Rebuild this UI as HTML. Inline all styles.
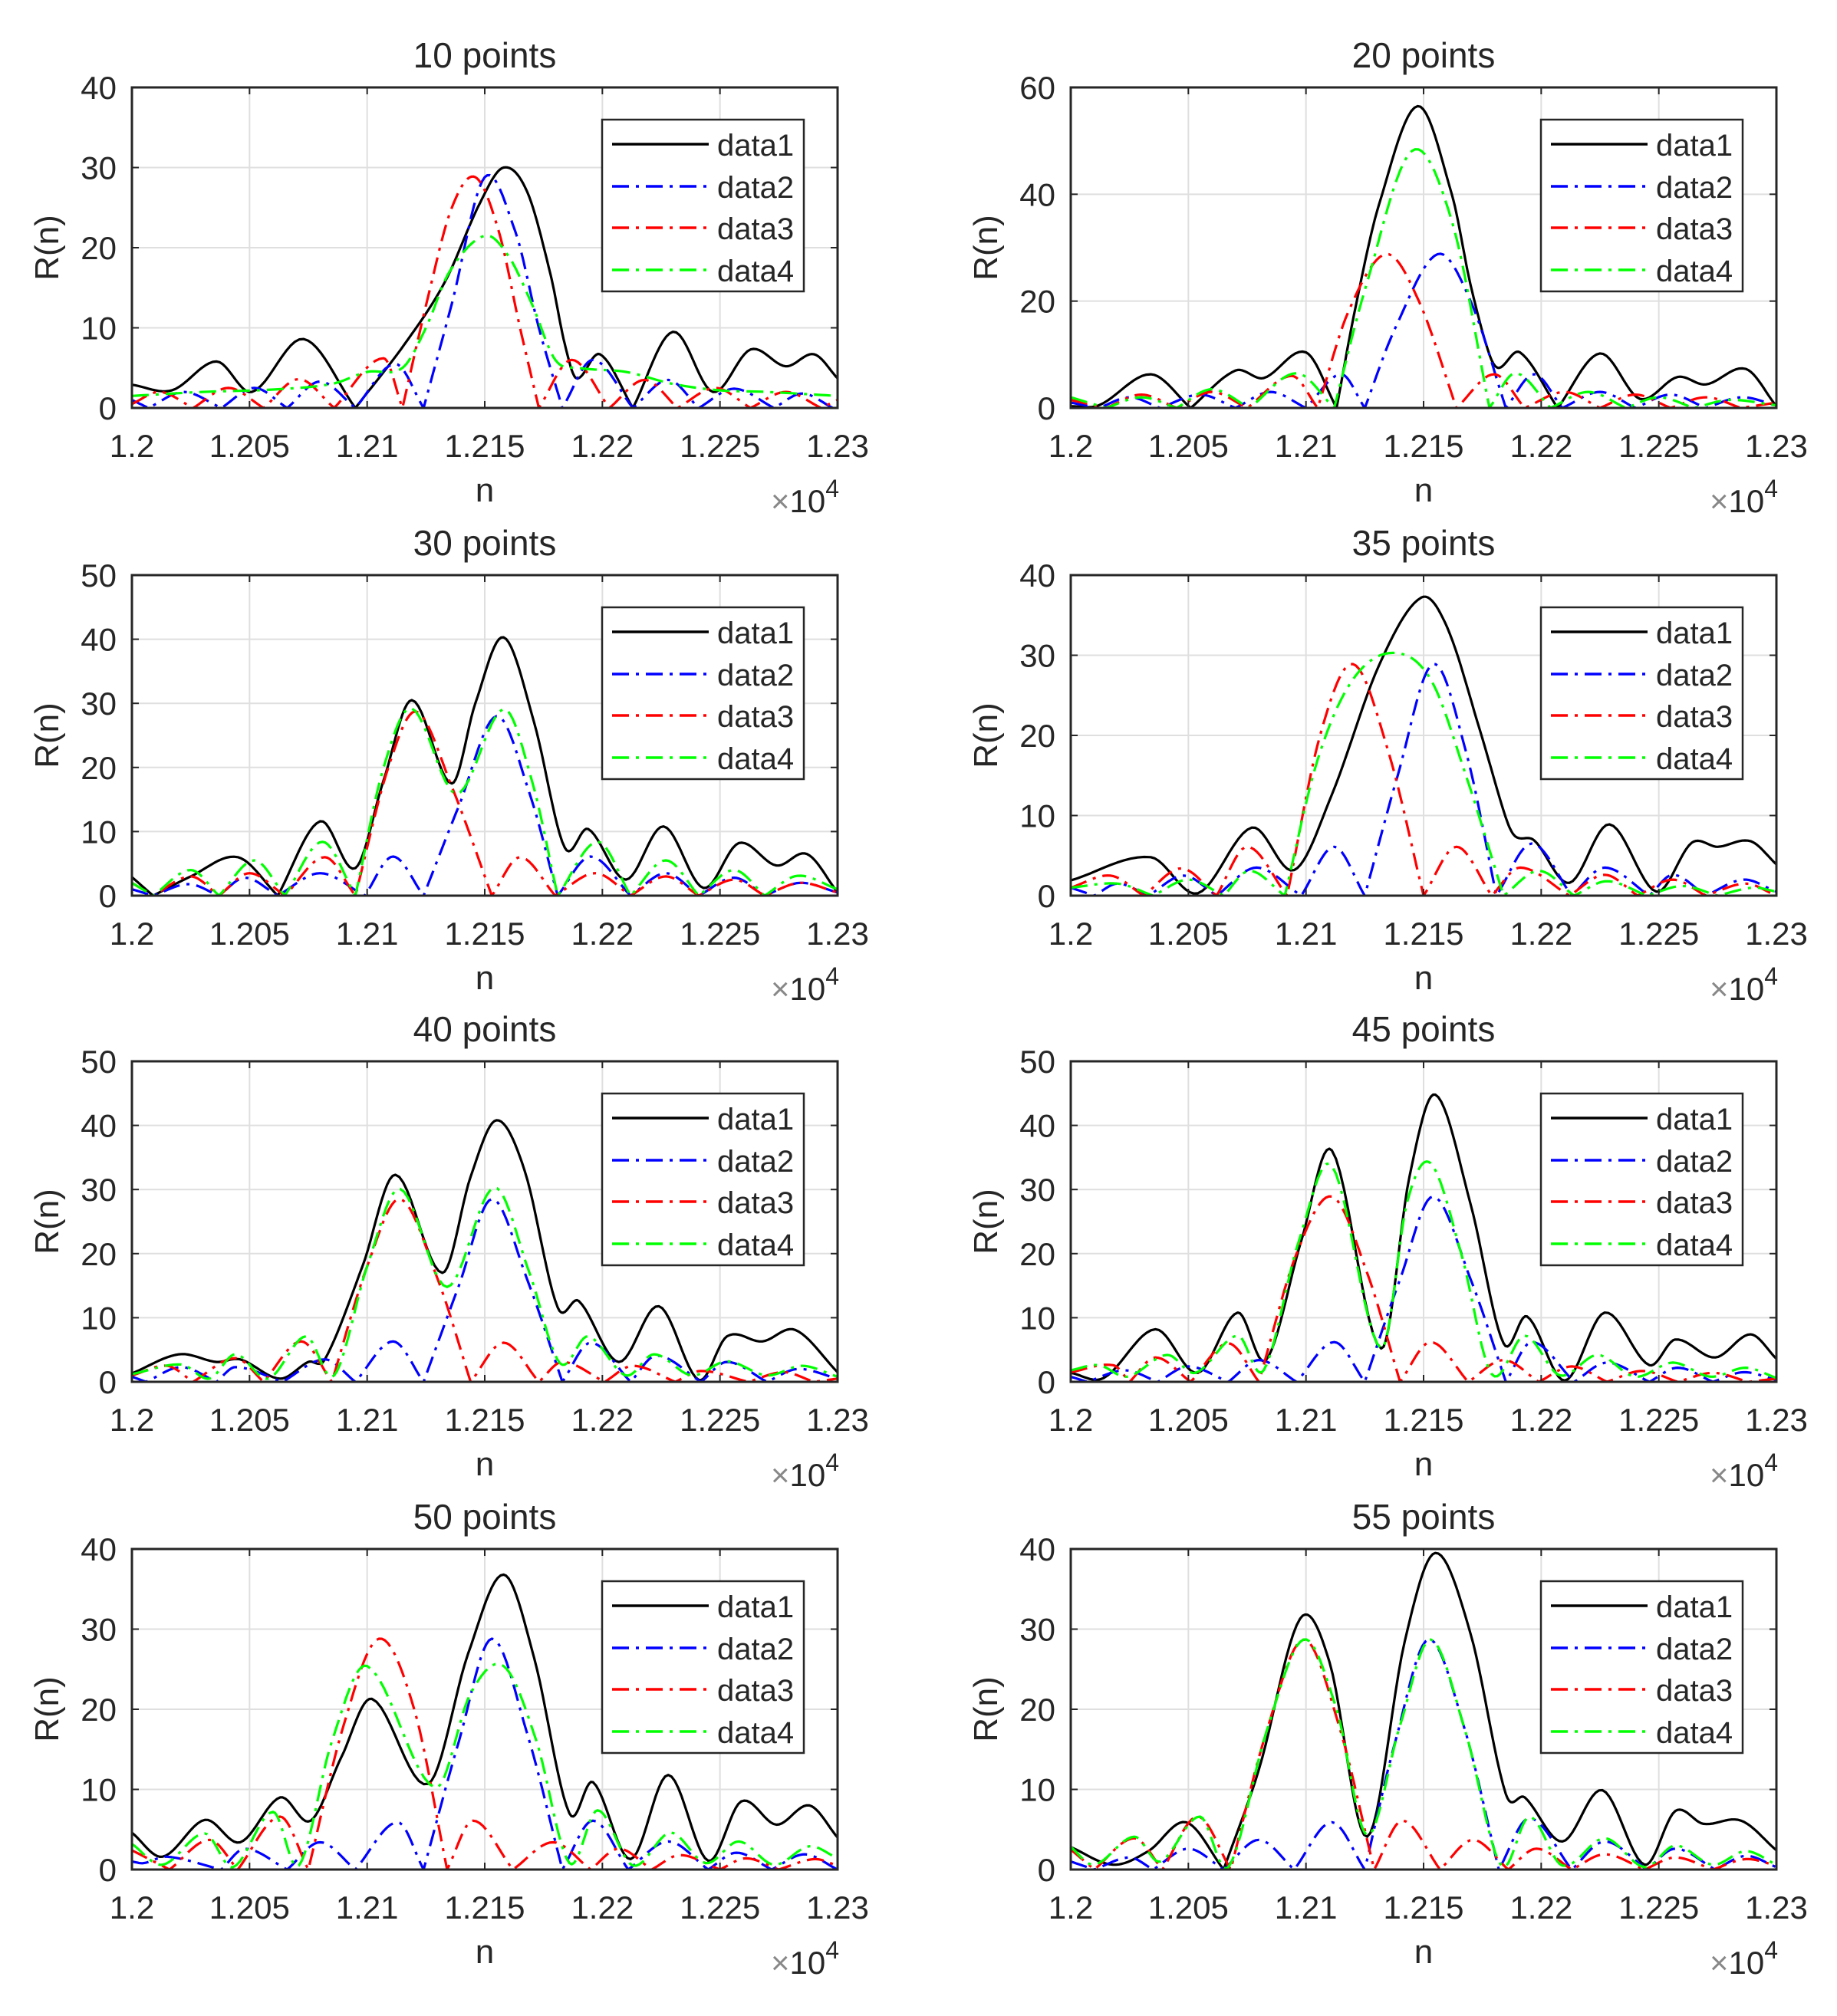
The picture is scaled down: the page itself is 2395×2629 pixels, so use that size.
<!DOCTYPE html>
<html><head><meta charset="utf-8"><style>
html,body{margin:0;padding:0;background:#fff;}
svg text{font-family:"Liberation Sans",Arial,sans-serif;fill:#262626;}
</style></head><body>
<svg id="fig" xmlns="http://www.w3.org/2000/svg" width="2395" height="2624" viewBox="0 0 2395 2624"></svg>
<script>
// x values: offset from 1.2e4 in units of 10 (0..30 => 1.2..1.23 x10^4)
const xTicks=[0,5,10,15,20,25,30];
const xTickLabels=["1.2","1.205","1.21","1.215","1.22","1.225","1.23"];
const titles=["10 points","20 points","30 points","35 points","40 points","45 points","50 points","55 points"];
const yMaxes=[40,60,50,40,50,50,40,40];
const yStepsPerPanel=[10,20,10,10,10,10,10,10];
const seriesNames=["data1","data2","data3","data4"];

const p10_d1=[[0,2.9],[1.7,2.2],[3.6,5.8],[5.1,2],[7.3,8.6],[9.5,0],[11.6,8],[13.3,15.7],[14.8,25.6],[15.8,30],[16.8,27],[17.8,16.6],[18.4,8],[18.9,3.7],[19.9,6.7],[21.3,0],[23,9.5],[24.7,2],[26.3,7.3],[27.8,5.2],[29,6.7],[30,3.7]];
const p10_d2=[[0,1],[0.7,0],[2.2,2],[3.8,0],[5.2,2.5],[6.6,0],[8,3.3],[9.5,0],[11.2,5.5],[12.4,0],[13.6,13],[15,28.8],[16.3,22],[17.3,10],[18.3,0],[19.6,6],[21.3,0],[22.8,3.5],[24.1,0],[25.6,2.4],[27.3,0],[28.5,1.8],[29.8,0],[30,0.5]];
const p10_d3=[[0,0.5],[1.2,2],[2.6,0],[4.1,2.5],[5.6,0],[7.1,3.6],[8.6,0],[10.7,6.2],[11.5,0],[12.6,14],[13.6,25],[14.6,28.8],[15.6,22],[16.5,10],[17.3,0],[18.7,6],[20.3,0],[21.8,3.5],[23.2,0],[24.8,2.5],[26.3,0],[27.8,2],[29.3,0],[30,1]];
const p10_d4=[[0,1.5],[3,2],[6,2.3],[8.5,3],[10,4.5],[11.5,5],[12.5,10],[13.5,17],[15,21.5],[16,19],[17,13],[18,6],[19,5],[21,4.5],[23,3],[25,2.2],[27,2],[30,1.5]];

const p20_d1=[[0,0.3],[1.2,0.5],[3.4,6.3],[5.1,0],[7,7],[8.2,5.6],[10,10.4],[11.3,0],[12.1,18.7],[13.1,38],[14.75,56.5],[16.2,40],[17,23],[17.8,10],[18.2,7.5],[19.1,10.4],[20.7,0],[22.5,10.2],[24.2,1.7],[25.8,5.8],[27,4.4],[28.7,7.3],[30,0.3]];
const p20_d2=[[0,1],[1.2,0],[2.5,2],[3.8,0],[5.5,2.5],[7,0],[8.5,3],[10,0],[11.5,6.3],[12.5,0],[13.8,15],[15.6,28.8],[17,20],[18.5,0],[19.7,6.3],[20.9,0],[22.5,3],[24,0],[25.5,2.5],[27,0],[28.5,2],[30,0.5]];
const p20_d3=[[0,1.5],[1.5,0],[3,2.5],[4.5,0],[6,3],[7.5,0],[9.4,6],[10.5,0],[11.8,18],[13.4,28.8],[14.8,20],[16.4,0],[18,6.3],[19.3,0],[21,3],[22.5,0],[24,2.5],[25.5,0],[27,2],[28.5,0],[30,1]];
const p20_d4=[[0,2],[1.5,0],[3,2],[4.5,0],[6,3.5],[7.6,0],[9.6,6.5],[11.2,0],[12.5,22],[14.5,48.1],[16.2,35],[17.8,0],[18.9,6.5],[20.4,0],[22,3],[23.6,0],[25,2],[26.5,0],[28,1.5],[30,0.5]];

const p30_d1=[[0,2.9],[0.9,0],[2.5,3],[4.5,6],[6.2,0],[8,11.6],[9.5,4.3],[10.7,18],[11.9,30.5],[13.6,17.5],[14.6,30],[15.8,40.3],[17.1,27],[18.4,7.5],[19.4,10.4],[21,2.5],[22.6,10.8],[24.3,1.2],[25.8,8.2],[27.4,4.7],[28.7,6.5],[30,0.5]];
const p30_d2=[[0,1],[0.9,0],[2.4,1.8],[3.7,0],[4.8,2.8],[6.2,0],[8,3.5],[9.9,0],[11.1,6.1],[12.4,0],[13.9,14],[15.5,28],[16.9,16],[18.1,0],[19.5,6.1],[21.2,0],[22.7,3.5],[24.1,0],[25.6,2.8],[26.9,0],[28.4,2],[30,0.5]];
const p30_d3=[[0,2],[0.9,0],[2.5,3],[3.7,0],[5,3.5],[6.5,0],[8.2,6],[9.5,0],[10.9,20],[12.1,28.7],[13.6,17],[15.3,0],[16.5,6],[18,0],[19.7,3.5],[21.2,0],[22.7,3],[24.1,0],[25.6,2.5],[26.9,0],[28.4,2],[30,0.5]];
const p30_d4=[[0,2],[0.9,0],[2.5,4],[3.7,0],[5.2,5.5],[6.5,0],[8.1,8.4],[9.5,0],[10.7,20],[11.9,29.2],[13.8,15.9],[15.8,29.1],[17,18],[18.1,0],[19.8,8.4],[21.2,0],[22.7,5.5],[24.1,0],[25.6,4],[26.9,0],[28.3,3.1],[30,1]];

const p35_d1=[[0,1.9],[3.4,4.8],[5.4,0.3],[7.7,8.5],[9.5,3.2],[11.1,12.6],[13.1,28.7],[14.9,37.2],[16,33.5],[17.4,20.6],[18.5,9.7],[18.9,7.4],[19.7,6.9],[21.2,1.6],[22.9,8.9],[24.9,0.5],[26.4,6.6],[27.5,6.1],[28.9,6.8],[30,3.9]];
const p35_d2=[[0,1],[1,0],[2,1.5],[3.3,0],[4.8,2.5],[6.2,0],[7.9,3.5],[9.8,0],[11.2,6.1],[12.5,0],[13.9,15],[15.4,28.9],[16.8,18],[18.1,0],[19.6,6.5],[21.3,0],[22.7,3.5],[24.6,0],[25.6,2.6],[27,0],[28.6,2],[30,0.5]];
const p35_d3=[[0,1],[1.7,2.5],[3.1,0],[4.7,3.4],[6.2,0],[7.5,6.1],[9.2,0],[10.6,20],[12,28.9],[13.5,18],[15,0],[16.4,6.1],[17.9,0],[19.1,3.5],[21.2,0],[22.7,2.6],[24.1,0],[25.6,2],[27,0],[28.7,1.5],[30,0]];
const p35_d4=[[0,1],[2,1.5],[3.5,0],[5,2],[6.5,0],[7.6,3.1],[9.1,0],[10.5,17],[12,27],[13.7,30.3],[15.3,27],[16.8,15],[18.4,0],[19.9,3.1],[21.4,0],[22.8,1.8],[24.5,0],[26,1.2],[27.5,0],[29,1],[30,0.5]];

const p40_d1=[[0,1.3],[2,4.3],[3.6,3.1],[4.6,3.5],[6.3,0.5],[7.5,3.1],[8.2,3.5],[9.8,18],[11.2,32.3],[13.2,17],[14.4,32],[15.5,40.8],[16.7,32.9],[18.1,11.6],[19,12.6],[20.7,3.1],[22.4,11.8],[24.1,0.3],[25.3,7.1],[26.8,6.3],[28.2,8.1],[30,1.5]];
const p40_d2=[[0,0.8],[0.6,0],[2.1,2.3],[3.6,0],[4.4,2.3],[6.4,0],[8.2,3.5],[9.5,0],[11.1,6.3],[12.4,0],[13.9,15],[15.3,28.5],[16.8,16],[18.3,0],[19.5,6.1],[21.2,0],[22.3,4.1],[24.2,0],[25.3,3.1],[27,0],[28.3,2],[30,0.5]];
const p40_d3=[[0,1],[1.5,2.5],[2.6,0],[4.4,3.7],[5.6,0],[7.2,6.3],[8.5,0],[10,18],[11.4,28.5],[13,16],[14.4,0],[15.8,6.1],[17.3,0],[18.3,3.1],[20.1,0],[21.3,2.5],[23.1,0],[24.2,1.7],[26.2,0],[27.7,1.5],[29,0],[30,0.5]];
const p40_d4=[[0,1.2],[2.1,2.7],[3.3,0.5],[4.4,4.3],[5.8,0.5],[7.4,7.1],[8.6,1],[10,18],[11.4,30.1],[13.4,14.8],[15.4,30.3],[16.9,17],[18.2,2.9],[19.4,7.1],[21,1],[22.2,4.3],[23.8,1],[25.3,3.2],[27,1],[28.5,2.5],[30,0.8]];

const p45_d1=[[0,1.4],[1.4,0.6],[3.6,8.2],[5.4,1.4],[7.1,10.8],[8.3,3.4],[9.8,22],[11.1,36.1],[13.2,5.2],[14.4,32],[15.5,44.8],[17,27.7],[18.4,6],[19.4,10.2],[21,0.2],[22.7,10.8],[24.6,2.6],[25.7,6.6],[27.4,3.8],[28.9,7.4],[30,3.6]];
const p45_d2=[[0,0.8],[0.7,0],[2.3,1.8],[3.7,0],[5,2.4],[6.7,0],[8,3.4],[9.6,0],[11.2,6.2],[12.5,0],[14,16],[15.4,28.9],[17,16],[18.5,0],[19.6,6.2],[21.4,0],[22.8,3],[24.6,0],[25.8,2.2],[27.3,0],[28.6,1.5],[30,0.3]];
const p45_d3=[[0,1.5],[1.8,2.6],[2.5,0],[3.6,3.8],[5.1,0],[6.7,6],[8,0],[9.6,20],[11.1,28.9],[12.6,17],[14,0],[15.3,6.2],[16.9,0],[18.4,3.4],[19.9,0],[21.3,2.4],[22.8,0],[24.3,1.7],[25.8,0],[27.3,1.4],[28.8,0],[30,0.5]];
const p45_d4=[[0,1.8],[1.2,2.6],[2.4,0.8],[4.1,4.2],[5.3,1.4],[7.1,7.2],[8.2,1.8],[9.7,22],[11.1,33.7],[13.2,5.2],[14.3,28],[15.3,34.1],[16.6,20],[17.9,1.2],[19.3,7.2],[20.8,1],[22.4,4.2],[24,0.8],[25.6,3],[27.2,0.8],[28.7,2.2],[30,0.6]];

const p50_d1=[[0,4.6],[1.3,1.6],[3.1,6.2],[4.6,3.4],[6.3,9],[7.6,6.1],[8.9,14],[10.2,21.3],[12.6,10.7],[14.3,27],[15.8,36.8],[17.1,26.4],[18.6,7],[19.6,10.9],[21.2,1.3],[22.8,11.8],[24.5,1.1],[25.9,8.5],[27.4,5.6],[28.8,8],[30,4]];
const p50_d2=[[0,1],[0.5,0.8],[1.5,1.6],[3.8,0],[4.8,2.6],[6.6,0],[8,3.4],[9.5,0],[11.3,5.9],[12.4,0],[13.9,16],[15.3,28.8],[16.8,17],[18.3,0],[19.6,6.1],[21.1,0],[22.8,3.5],[24.5,0],[25.7,2.1],[27.2,0],[28.6,1.9],[30,0]];
const p50_d3=[[0,2.4],[1.6,0],[3.3,3.7],[4.5,0],[6.3,6.6],[7.5,0],[9,18],[10.5,28.8],[12,20],[13.4,0],[14.5,6.1],[16.2,0],[17.9,3.4],[19.5,0],[20.7,2.6],[22.1,0],[23.3,1.8],[25,0],[26.1,1.4],[27.5,0],[29,1.3],[30,0.5]];
const p50_d4=[[0,3.2],[1.3,0.6],[3.1,4.5],[4.3,0.3],[6,7.2],[7.1,0.5],[8.5,16],[10,25.4],[12.9,10.2],[14.4,22],[15.8,25.4],[17.2,16],[18.6,0.8],[19.8,7.4],[21.3,0.5],[22.9,4.6],[24.4,0.8],[25.8,3.5],[27.3,0.6],[28.8,2.9],[30,1.4]];

const p55_d1=[[0,2.8],[1.8,0.6],[3.3,2.3],[4.9,5.9],[6.5,0],[8,12.5],[9.75,31.3],[11,25.9],[12.6,4.1],[14.2,28.5],[15.5,39.5],[17,29.4],[18.5,9.4],[19.3,9],[20.9,3.5],[22.6,9.9],[24.4,0.6],[25.7,7.3],[26.9,5.7],[28.5,6.1],[30,2.4]];
const p55_d2=[[0,1],[1,0],[2.5,1.5],[3.5,0],[5,2.6],[6.5,0],[8,3.7],[9.5,0],[11.1,5.9],[12.5,0],[13.8,16],[15.2,28.7],[16.7,18],[18.2,0],[19.5,6.4],[21.3,0],[22.7,3.5],[24.5,0],[25.7,2.6],[27.4,0],[28.7,1.7],[30,0.3]];
const p55_d3=[[0,2.5],[1,0],[2.7,3.9],[3.9,0],[5.4,6.6],[6.8,0],[8.3,17],[9.9,28.7],[11.4,18],[12.9,0],[14.1,6.1],[15.7,0],[17.1,3.7],[18.6,0],[19.8,2.6],[21.3,0],[22.7,1.9],[24.4,0],[25.7,1.5],[27.3,0],[28.7,1.3],[30,0.5]];
const p55_d4=[[0,2.8],[1,0.6],[2.7,4.1],[3.8,1],[5.5,6.6],[6.7,0.3],[8.3,17],[9.9,28.7],[11.3,20],[12.6,4.3],[14,18],[15.3,28.7],[16.8,17],[18.3,0.5],[19.5,6.6],[20.9,0.5],[22.7,3.9],[24.4,0.3],[25.7,3],[27.3,0.6],[28.7,2.3],[30,0.6]];

const panelSeries=[
 [p10_d1,p10_d2,p10_d3,p10_d4],[p20_d1,p20_d2,p20_d3,p20_d4],
 [p30_d1,p30_d2,p30_d3,p30_d4],[p35_d1,p35_d2,p35_d3,p35_d4],
 [p40_d1,p40_d2,p40_d3,p40_d4],[p45_d1,p45_d2,p45_d3,p45_d4],
 [p50_d1,p50_d2,p50_d3,p50_d4],[p55_d1,p55_d2,p55_d3,p55_d4]];

const NS="http://www.w3.org/2000/svg";
const svg=document.getElementById('fig');
const colors=["#000000","#0000ff","#ff0000","#00ff00"];
const dashes=[null,"22 9 4 9","22 9 4 9","22 9 4 9"];
const colX=[172,1396], rowY=[114,750,1384,2020], PW=920, PH=418;

function mk(tag,attrs,parent){const e=document.createElementNS(NS,tag);for(const k in attrs)e.setAttribute(k,attrs[k]);(parent||svg).appendChild(e);return e;}

function curvePath(pts,sx,sy){
  const n=pts.length; const tin=[],tout=[];
  for(let i=0;i<n;i++){
    const l=i>0?(pts[i][1]-pts[i-1][1])/(pts[i][0]-pts[i-1][0]):null;
    const r=i<n-1?(pts[i+1][1]-pts[i][1])/(pts[i+1][0]-pts[i][0]):null;
    if(pts[i][1]===0){tin.push(l===null?r:l);tout.push(r===null?l:r);}
    else if(l===null||r===null){const s=l===null?r:l;tin.push(s);tout.push(s);}
    else{const s=(pts[i+1][1]-pts[i-1][1])/(pts[i+1][0]-pts[i-1][0]);tin.push(s);tout.push(s);}
  }
  let d="M"+sx(pts[0][0]).toFixed(1)+","+sy(pts[0][1]).toFixed(1);
  for(let i=0;i<n-1;i++){
    const x0=pts[i][0],y0=pts[i][1],x1=pts[i+1][0],y1=pts[i+1][1],h=x1-x0;
    for(let k=1;k<=12;k++){
      const t=k/12,t2=t*t,t3=t2*t;
      let y=(2*t3-3*t2+1)*y0+(t3-2*t2+t)*h*tout[i]+(-2*t3+3*t2)*y1+(t3-t2)*h*tin[i+1];
      if(y<0)y=0;
      d+=" L"+sx(x0+t*h).toFixed(1)+","+sy(y).toFixed(1);
    }
  }
  return d;
}

for(let p=0;p<8;p++){
  const X0=colX[p%2], Y0=rowY[Math.floor(p/2)], ymax=yMaxes[p], ystep=yStepsPerPanel[p];
  const sx=u=>X0+u/30*PW, sy=v=>Y0+PH-v/ymax*PH;
  const g=mk('g',{});
  
  
  mk('rect',{x:X0,y:Y0,width:PW,height:PH,fill:'#fff'},g);
  for(const t of xTicks){const l=mk('line',{x1:sx(t),x2:sx(t),y1:Y0,y2:Y0+PH,stroke:'#dfdfdf','stroke-width':2},g);}
  for(let v=0;v<=ymax;v+=ystep){const l=mk('line',{x1:X0,x2:X0+PW,y1:sy(v),y2:sy(v),stroke:'#dfdfdf','stroke-width':2},g);}
  const cp=mk('clipPath',{id:'c'+p},g);mk('rect',{x:X0,y:Y0,width:PW,height:PH},cp);
  for(let s=0;s<4;s++){
    const a={d:curvePath(panelSeries[p][s],sx,sy),fill:'none',stroke:colors[s],'stroke-width':3.2,'clip-path':'url(#c'+p+')','stroke-linejoin':'round'};
    if(dashes[s])a['stroke-dasharray']=dashes[s];
    const e=mk('path',a,g);
    
    
  }
  const bx=mk('rect',{x:X0,y:Y0,width:PW,height:PH,fill:'none',stroke:'#262626','stroke-width':3},g);
  
  for(let i=0;i<xTicks.length;i++){
    const x=sx(xTicks[i]);
    mk('line',{x1:x,x2:x,y1:Y0+PH,y2:Y0+PH-9,stroke:'#262626','stroke-width':2},g);
    mk('line',{x1:x,x2:x,y1:Y0,y2:Y0+9,stroke:'#262626','stroke-width':2},g);
    const t=mk('text',{x:x,y:Y0+PH+64,'font-size':42,'text-anchor':'middle'},g);t.textContent=xTickLabels[i];
    
  }
  for(let v=0;v<=ymax;v+=ystep){
    const y=sy(v);
    mk('line',{x1:X0,x2:X0+9,y1:y,y2:y,stroke:'#262626','stroke-width':2},g);
    mk('line',{x1:X0+PW,x2:X0+PW-9,y1:y,y2:y,stroke:'#262626','stroke-width':2},g);
    const t=mk('text',{x:X0-20,y:y+15,'font-size':42,'text-anchor':'end'},g);t.textContent=String(v);
    
  }
  const ti=mk('text',{x:X0+PW/2,y:Y0-26,'font-size':46,'text-anchor':'middle'},g);ti.textContent=titles[p];
  
  const xl=mk('text',{x:X0+PW/2,y:Y0+PH+122,'font-size':44,'text-anchor':'middle'},g);xl.textContent='n';
  
  const yl=mk('text',{x:0,y:0,'font-size':44,'text-anchor':'middle',transform:'translate('+(X0-96)+','+(Y0+PH/2)+') rotate(-90)'},g);yl.textContent='R(n)';
  
  const ex=mk('text',{x:X0+PW+2,y:Y0+PH+136,'font-size':42,'text-anchor':'end',fill:'#262626'},g);
  ex.innerHTML='<tspan fill="#888">×</tspan>10<tspan font-size="32" dy="-20">4</tspan>';
  
  const LX=X0+PW-44-263, LY=Y0+42;
  const lg=mk('g',{},g);
  
  mk('rect',{x:LX,y:LY,width:263,height:224,fill:'#fff',stroke:'#262626','stroke-width':2.5},lg);
  const offs=[32,87,141,196];
  for(let s=0;s<4;s++){
    const ly=LY+offs[s];
    const la={x1:LX+13,x2:LX+139,y1:ly,y2:ly,stroke:colors[s],'stroke-width':3.4};
    if(dashes[s])la['stroke-dasharray']=dashes[s];
    const ln=mk('line',la,lg);
    
    const lt=mk('text',{x:LX+150,y:ly+15,'font-size':40},lg);lt.textContent=seriesNames[s];
    
  }
}
</script>
</body></html>
